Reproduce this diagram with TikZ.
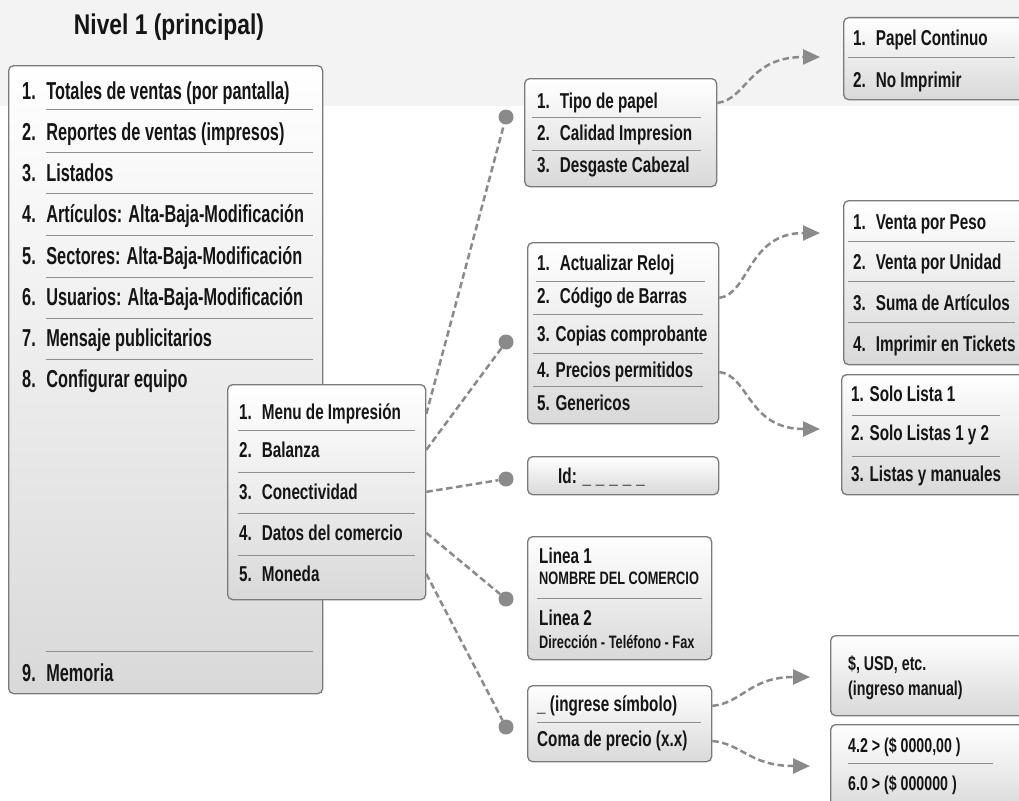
\documentclass[tikz,border=0pt]{standalone}
\usepackage{fontspec}
\newfontfamily\fmain{Liberation Sans}[FakeStretch=0.665]
\newfontfamily\fsec{Liberation Sans}[FakeStretch=0.71]
\newfontfamily\ftitle{Liberation Sans}[FakeStretch=0.80]
\usetikzlibrary{arrows.meta}
\definecolor{conncol}{HTML}{8A8A8A}
\definecolor{boxborder}{HTML}{7A7A7A}
\definecolor{band}{HTML}{F3F3F3}
\definecolor{txt}{HTML}{151515}
\definecolor{sepcol}{HTML}{8E8E8E}
\tikzset{
  panel/.style={draw=boxborder, line width=1.3pt, rounded corners=5pt,
    top color=white, bottom color=black!15, anchor=north west, inner sep=0pt},
  titletxt/.style={anchor=base, inner sep=0pt, text=txt,
    font=\ftitle\bfseries\fontsize{28.5}{32}\selectfont},
  mtxt/.style={anchor=base west, inner sep=0pt, text=txt,
    font=\fmain\bfseries\fontsize{24.5}{28}\selectfont},
  stxt/.style={anchor=base west, inner sep=0pt, text=txt,
    font=\fsec\bfseries\fontsize{21.5}{25}\selectfont},
  mtxtb/.style={anchor=base west, inner sep=0pt, text=txt,
    font=\fsec\bfseries\fontsize{20}{23}\selectfont},
  smalltxt/.style={anchor=base west, inner sep=0pt, text=txt,
    font=\fsec\bfseries\fontsize{18}{20}\selectfont},
  sepline/.style={draw=sepcol, line width=1pt},
  conn/.style={draw=conncol, line width=2.5pt, dash pattern=on 6.5pt off 3.5pt},
  arr/.style={conn, -{Triangle[length=17pt,width=15pt]}},
  dotnode/.style={circle, fill=conncol, inner sep=0pt, minimum size=15pt},
}
\newcommand{\blankline}{\_\hspace{5pt}\_\hspace{5pt}\_\hspace{5pt}\_\hspace{5pt}\_}
\begin{document}
\begin{tikzpicture}[x=1pt,y=-1pt]
\useasboundingbox (0,0) rectangle (1019,800);
\clip (0,0) rectangle (1019,800);
\fill[band] (0,0) rectangle (1019,106);

\node[titletxt] (title) at (169,35) {Nivel 1 (principal)};

% ---- main box
\node[panel, minimum width=314pt, minimum height=628pt] (main) at (8,65) {};
\node[mtxt] (m1) at (22,99) {1.~ Totales de ventas (por pantalla)};
\node[mtxt] (m2) at (22,140) {2.~ Reportes de ventas (impresos)};
\node[mtxt] (m3) at (22,181) {3.~ Listados};
\node[mtxt] (m4) at (22,222.5) {4.~ Artículos: Alta-Baja-Modificación};
\node[mtxt] (m5) at (22,264) {5.~ Sectores: Alta-Baja-Modificación};
\node[mtxt] (m6) at (22,305) {6.~ Usuarios: Alta-Baja-Modificación};
\node[mtxt] (m7) at (22,346) {7.~ Mensaje publicitarios};
\node[mtxt] (m8) at (22,387.5) {8.~ Configurar equipo};
\node[mtxt] (m9) at (22,681.5) {9.~ Memoria};
\foreach \yy in {109,152,193,235,277,318,359,651}
  \draw[sepline] (46,\yy) -- (313,\yy);

% ---- configurar equipo
\node[panel, minimum width=198pt, minimum height=215pt] (cfg) at (227,384) {};
\node[stxt] (c1) at (239,419.5) {1.~ Menu de Impresión};
\node[stxt] (c2) at (239,457.5) {2.~ Balanza};
\node[stxt] (c3) at (239,499.5) {3.~ Conectividad};
\node[stxt] (c4) at (239,540.5) {4.~ Datos del comercio};
\node[stxt] (c5) at (239,581.5) {5.~ Moneda};
\foreach \yy in {430,472,513,555}
  \draw[sepline] (238,\yy) -- (415,\yy);

% ---- tipo de papel
\node[panel, minimum width=192pt, minimum height=108pt] (tipo) at (524,78) {};
\node[stxt] (t1) at (537,108.5) {1.~ Tipo de papel};
\node[stxt] (t2) at (537,140.5) {2.~ Calidad Impresion};
\node[stxt] (t3) at (537,172.5) {3.~ Desgaste Cabezal};
\foreach \yy in {117,150}
  \draw[sepline] (532,\yy) -- (701,\yy);

% ---- papel continuo
\node[panel, minimum width=200pt, minimum height=82pt] (papel) at (843,17) {};
\node[stxt] (p1) at (853,46) {1.~ Papel Continuo};
\node[stxt] (p2) at (853,87.5) {2.~ No Imprimir};
\draw[sepline] (848,58) -- (1015,58);

% ---- reloj
\node[panel, minimum width=191pt, minimum height=181pt] (reloj) at (527,242) {};
\node[stxt] (r1) at (537,270.5) {1.~ Actualizar Reloj};
\node[stxt] (r2) at (537,303.5) {2.~ Código de Barras};
\node[stxt] (r3) at (537,341.5) {3. Copias comprobante};
\node[stxt] (r4) at (537,377.5) {4. Precios permitidos};
\node[stxt] (r5) at (537,410.5) {5. Genericos};
\draw[sepline] (536,281) -- (705,281);
\foreach \yy in {314,353,386}
  \draw[sepline] (533,\yy) -- (703,\yy);

% ---- id
\node[panel, minimum width=191pt, minimum height=38pt] (idb) at (527,456) {};
\node[stxt] (id1) at (558,483.5) {Id: \blankline};

% ---- venta
\node[panel, minimum width=200pt, minimum height=164pt] (venta) at (843,200) {};
\node[stxt] (v1) at (853,229.5) {1.~ Venta por Peso};
\node[stxt] (v2) at (853,269.5) {2.~ Venta por Unidad};
\node[stxt] (v3) at (853,310.5) {3.~ Suma de Artículos};
\node[stxt] (v4) at (853,351.5) {4.~ Imprimir en Tickets};
\foreach \yy in {241,281,322}
  \draw[sepline] (848,\yy) -- (1015,\yy);

% ---- solo lista
\node[panel, minimum width=200pt, minimum height=120pt] (solo) at (841,374) {};
\node[stxt] (s1) at (851,401.5) {1. Solo Lista 1};
\node[stxt] (s2) at (851,440.5) {2. Solo Listas 1 y 2};
\node[stxt] (s3) at (851,481.5) {3. Listas y manuales};
\foreach \yy in {415,456}
  \draw[sepline] (852,\yy) -- (1000,\yy);

% ---- linea
\node[panel, minimum width=184pt, minimum height=123pt] (linea) at (527,536) {};
\node[stxt] (l1) at (539,563) {Linea 1};
\node[smalltxt] (l2) at (539,584.5) {NOMBRE DEL COMERCIO};
\draw[sepline] (537,598) -- (702,598);
\node[stxt] (l3) at (539,625) {Linea 2};
\node[smalltxt] (l4) at (539,648.5) {Dirección - Teléfono - Fax};

% ---- ingrese simbolo
\node[panel, minimum width=184pt, minimum height=76pt] (ing) at (527,685) {};
\node[stxt] (g1) at (537,711.5) {\_ (ingrese símbolo)};
\draw[sepline] (537,722) -- (701,722);
\node[stxt] (g2) at (537,746.5) {Coma de precio (x.x)};

% ---- moneda
\node[panel, minimum width=200pt, minimum height=80pt] (mon) at (830,635) {};
\node[mtxtb] (n1) at (848,670) {\$, USD, etc.};
\node[mtxtb] (n2) at (848,695) {(ingreso manual)};

% ---- coma
\node[panel, minimum width=200pt, minimum height=90pt] (coma) at (830,724) {};
\node[mtxtb] (k1) at (848,752) {4.2 > (\$ 0000,00 )};
\draw[sepline] (848,763) -- (993,763);
\node[mtxtb] (k2) at (848,790) {6.0 > (\$ 000000 )};

% ---- dots and straight connectors
\node[dotnode] (d1) at (506,117) {};
\node[dotnode] (d2) at (506,342) {};
\node[dotnode] (d3) at (506,479) {};
\node[dotnode] (d4) at (506,599) {};
\node[dotnode] (d5) at (506,727) {};
\draw[conn] (cfg.east |- c1) -- (d1);
\draw[conn] (cfg.east |- c2) -- (d2);
\draw[conn] (cfg.east |- c3) -- (d3);
\draw[conn] (cfg.east |- c4) -- (d4);
\draw[conn] (cfg.east |- c5) -- (d5);

% ---- curved arrows
\coordinate (a1) at (820,57);
\coordinate (a2) at (820,233);
\coordinate (a3) at (820,429);
\coordinate (a4) at (810,677);
\coordinate (a5) at (810,766);
\draw[arr] (tipo.east |- t1) .. controls +(30,-4) and +(-72,0) .. (a1);
\draw[arr] (reloj.east |- r2) .. controls +(30,-4) and +(-72,0) .. (a2);
\draw[arr] (reloj.east |- r4) .. controls +(30,4) and +(-72,0) .. (a3);
\draw[arr] (ing.east |- g1) .. controls +(30,-3) and +(-60,0) .. (a4);
\draw[arr] (ing.east |- g2) .. controls +(30,3) and +(-60,0) .. (a5);
\end{tikzpicture}
\end{document}
